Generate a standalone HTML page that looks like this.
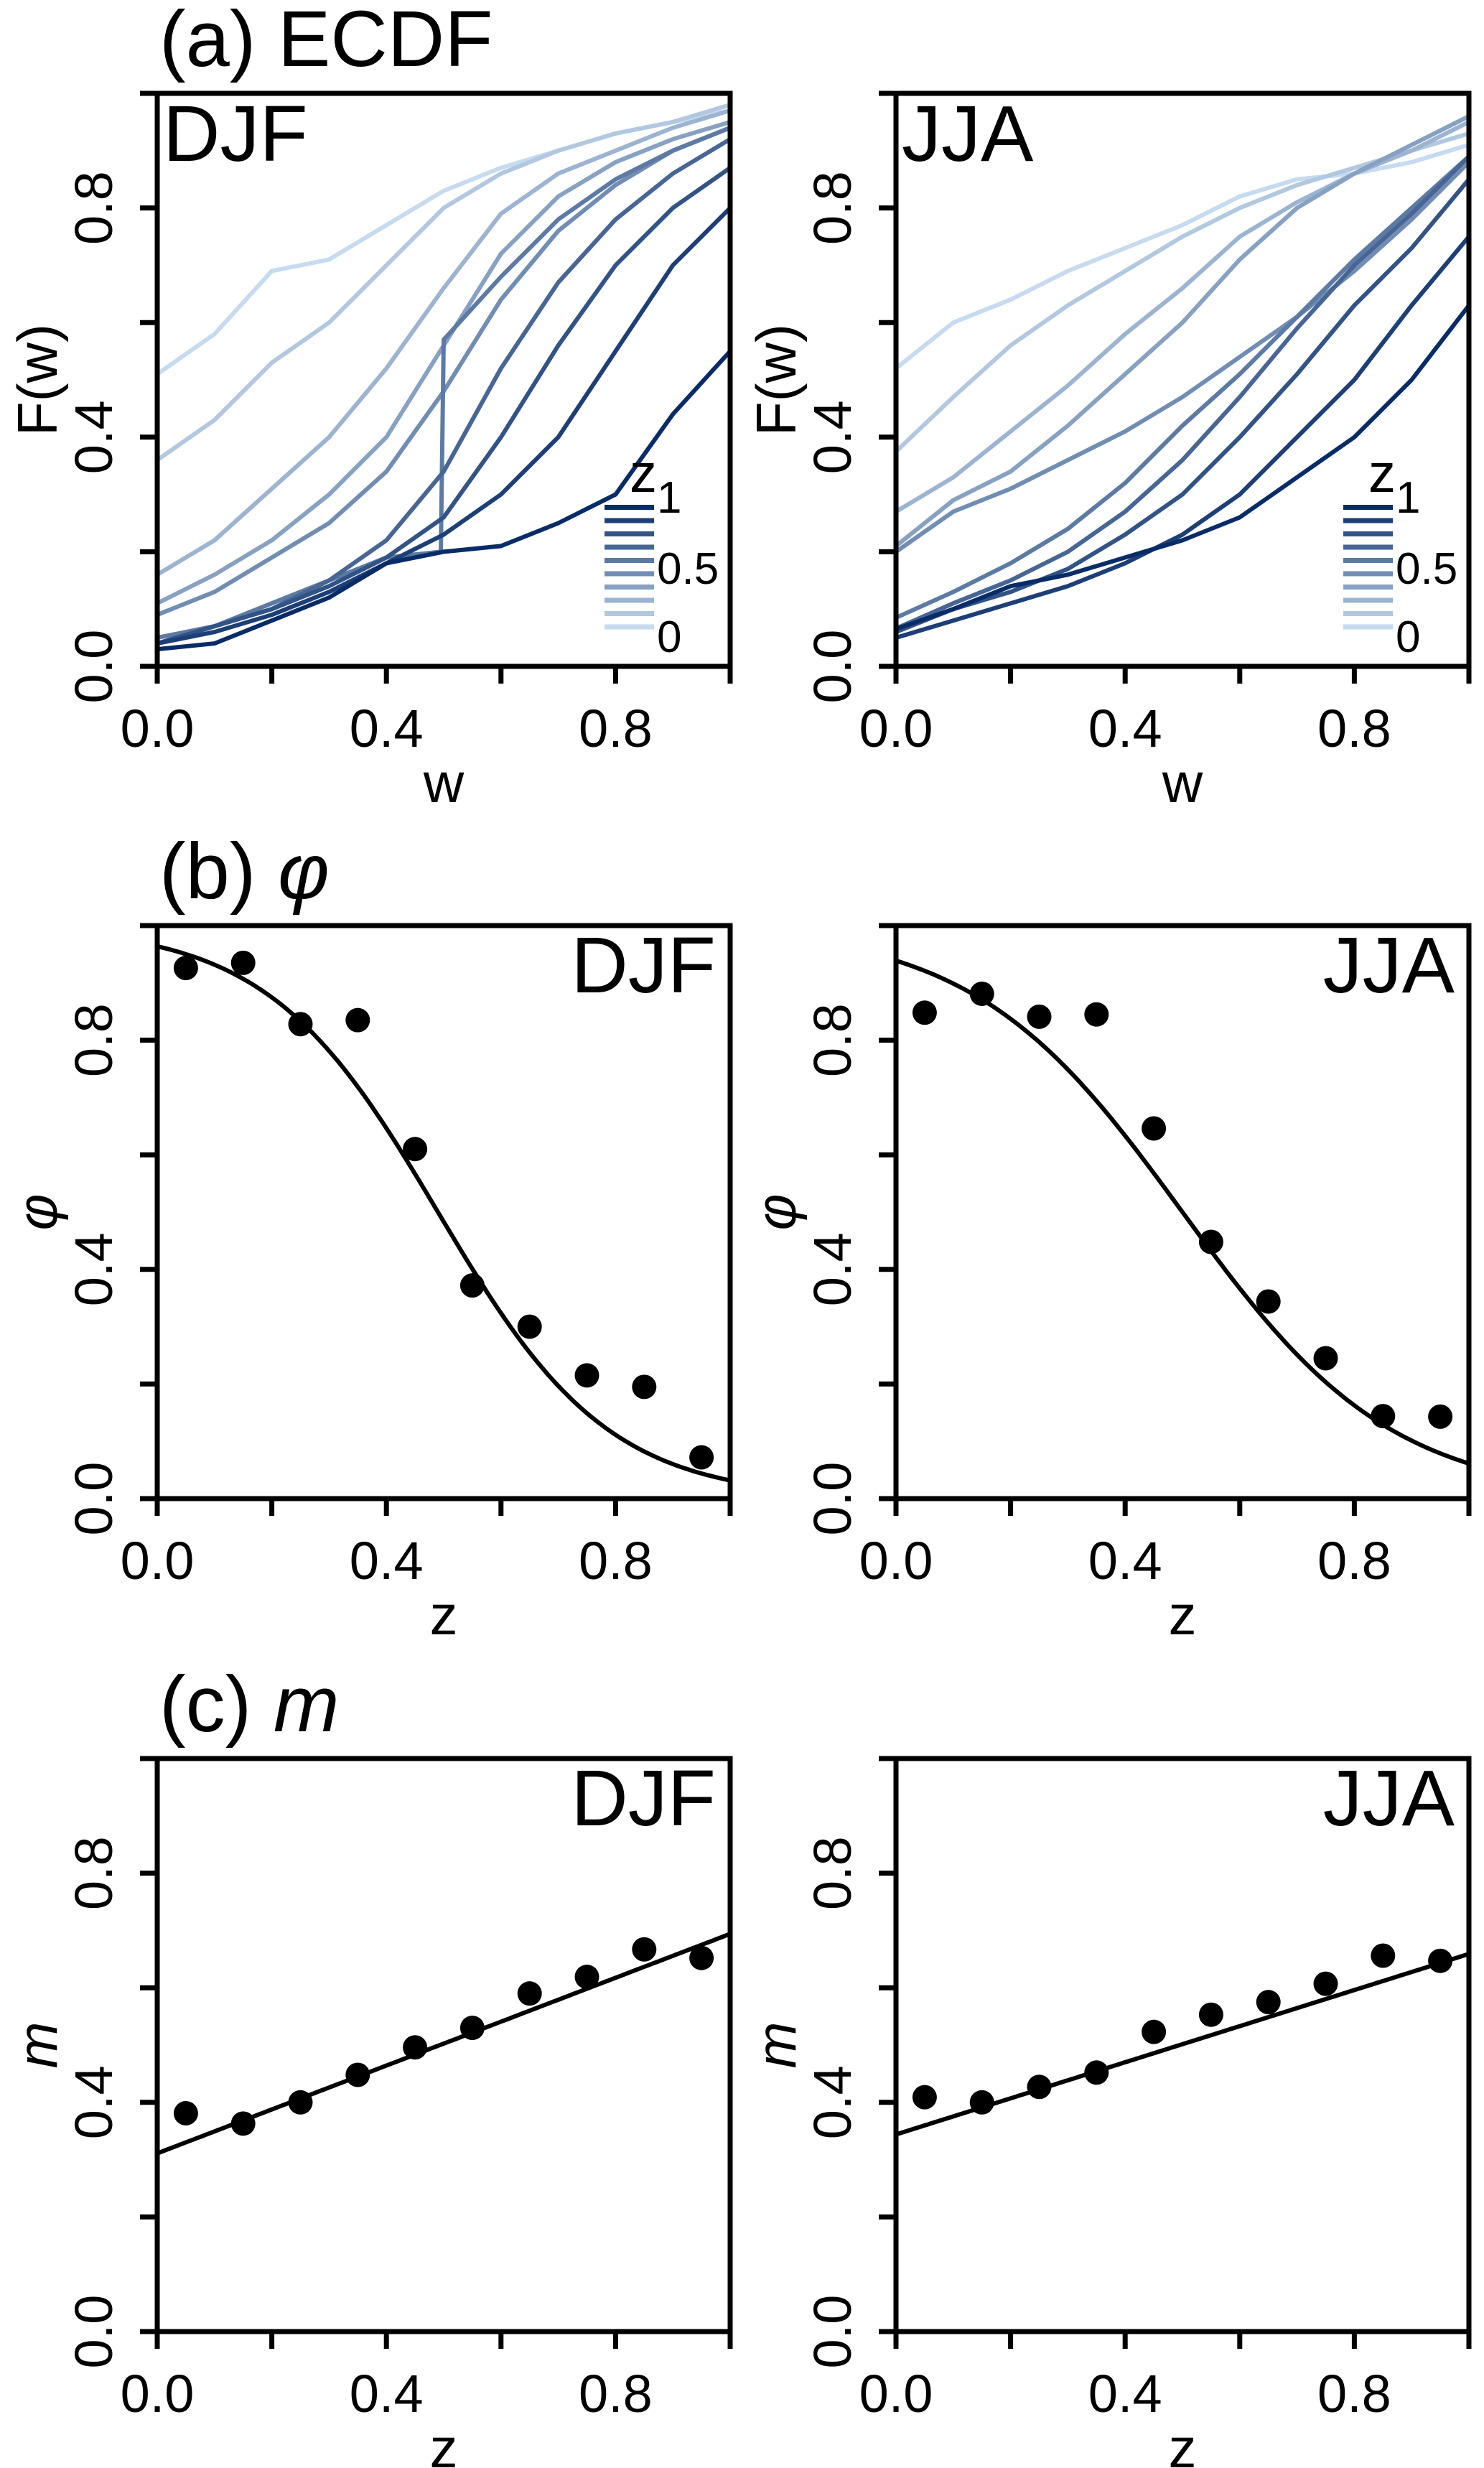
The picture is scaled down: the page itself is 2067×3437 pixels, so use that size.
<!DOCTYPE html>
<html><head><meta charset="utf-8"><title>ECDF, φ and m by season</title>
<style>
html,body{margin:0;padding:0;background:#fff;}
svg{display:block;font-family:"Liberation Sans",sans-serif;}
</style></head>
<body>
<svg id="fig" width="2067" height="3437" viewBox="0 0 2067 3437" xmlns="http://www.w3.org/2000/svg"></svg>
<script>
// ---- data ----
const wGrid = [0,0.1,0.2,0.3,0.4,0.5,0.6,0.7,0.8,0.9,1.0];
const wGridJump = [0,0.1,0.2,0.3,0.4,0.495,0.5,0.6,0.7,0.8,0.9,1.0];
const zLevels = [0.05,0.15,0.25,0.35,0.45,0.55,0.65,0.75,0.85,0.95];
const ecdfDJF = [
 [0.51,0.58,0.69,0.71,0.77,0.83,0.87,0.90,0.93,0.95,0.97],
 [0.36,0.43,0.53,0.60,0.70,0.80,0.86,0.90,0.93,0.95,0.98],
 [0.16,0.22,0.31,0.40,0.52,0.66,0.79,0.86,0.90,0.94,0.97],
 [0.11,0.16,0.22,0.30,0.40,0.56,0.72,0.82,0.88,0.92,0.95],
 [0.09,0.13,0.19,0.25,0.34,0.48,0.64,0.76,0.84,0.90,0.94],
 [0.05,0.07,0.11,0.15,0.19,0.20,0.57,0.68,0.78,0.85,0.90,0.94],
 [0.04,0.07,0.10,0.15,0.22,0.34,0.52,0.67,0.78,0.86,0.92],
 [0.04,0.07,0.10,0.14,0.19,0.26,0.40,0.56,0.70,0.80,0.87],
 [0.04,0.06,0.09,0.13,0.18,0.23,0.30,0.40,0.55,0.70,0.80],
 [0.03,0.04,0.08,0.12,0.18,0.20,0.21,0.25,0.30,0.44,0.55]
];
const ecdfJJA = [
 [0.52,0.60,0.64,0.69,0.73,0.77,0.82,0.85,0.86,0.88,0.91],
 [0.375,0.47,0.56,0.63,0.69,0.75,0.80,0.84,0.87,0.90,0.93],
 [0.27,0.33,0.41,0.49,0.58,0.66,0.75,0.81,0.86,0.90,0.95],
 [0.21,0.29,0.34,0.42,0.51,0.60,0.71,0.80,0.86,0.91,0.96],
 [0.20,0.27,0.31,0.36,0.41,0.47,0.54,0.61,0.69,0.78,0.88],
 [0.085,0.13,0.18,0.24,0.32,0.42,0.51,0.61,0.71,0.80,0.89],
 [0.066,0.11,0.15,0.20,0.27,0.36,0.47,0.59,0.70,0.79,0.89],
 [0.06,0.10,0.13,0.17,0.23,0.30,0.40,0.51,0.63,0.73,0.85],
 [0.05,0.08,0.11,0.14,0.18,0.23,0.30,0.40,0.50,0.63,0.75],
 [0.065,0.10,0.14,0.16,0.19,0.22,0.26,0.33,0.40,0.50,0.63]
];
const phiDJF = [0.926,0.935,0.828,0.835,0.61,0.372,0.30,0.215,0.195,0.072];
const phiJJA = [0.848,0.881,0.841,0.845,0.646,0.448,0.344,0.245,0.144,0.143];
const phiFitDJF = [6.7,0.49];   // logistic k, z0
const phiFitJJA = [5.46,0.50];
const mDJF = [0.381,0.363,0.40,0.448,0.496,0.530,0.590,0.619,0.667,0.652];
const mJJA = [0.409,0.40,0.427,0.452,0.523,0.553,0.575,0.607,0.656,0.647];
const mFitDJF = [0.311,0.694];  // value at z=0, z=1
const mFitJJA = [0.344,0.659];
const tickVals = [0,0.2,0.4,0.6,0.8,1.0];
const tickLabels = ["0.0","","0.4","","0.8",""];

// ---- layout ----
const NS="http://www.w3.org/2000/svg";
const svg=document.getElementById('fig');
const W=798, rowTop=[130,1289,2449], colLeft=[219,1248];
function mk(tag,attrs,parent){const e=document.createElementNS(NS,tag);for(const k in attrs)e.setAttribute(k,attrs[k]);(parent||svg).appendChild(e);return e;}
function lerpCol(t){const a=[198,219,239],b=[8,44,104];const c=a.map((v,i)=>Math.round(v+(b[i]-v)*t));return `rgb(${c[0]},${c[1]},${c[2]})`;}
const colors=zLevels.map((z,i)=>lerpCol(i/(zLevels.length-1)));

function panel(r,c,name,xTitle,yTitle,yItalic){
  const L=colLeft[c],T=rowTop[r],B=T+W,R=L+W;
  const g=mk('g',{});
  
  
  const sx=v=>L+v*W, sy=v=>B-v*W;
  tickVals.forEach((v,i)=>{
    const tx=mk('line',{x1:sx(v),x2:sx(v),y1:B,y2:B+24,stroke:'#000','stroke-width':7},g);
    
    const ty=mk('line',{x1:L,x2:L-24,y1:sy(v),y2:sy(v),stroke:'#000','stroke-width':7},g);
    
    if(tickLabels[i]){
      const lx=mk('text',{x:sx(v),y:B+112,'font-size':74,'text-anchor':'middle'},g);lx.textContent=tickLabels[i];
      
      const ly=mk('text',{x:L-63,y:sy(v),'font-size':74,'text-anchor':'middle',transform:`rotate(-90 ${L-63} ${sy(v)})`},g);ly.textContent=tickLabels[i];
      
    }
  });
  const xt=mk('text',{x:L+W/2,y:B+189,'font-size':78,'text-anchor':'middle'},g);xt.textContent=xTitle;
  
  const yx=L-140,yy=T+W/2;
  const yt=mk('text',{x:yx,y:yy,'font-size':78,'text-anchor':'middle','font-style':yItalic?'italic':'normal',transform:`rotate(-90 ${yx} ${yy})`},g);yt.textContent=yTitle;
  
  return {g,sx,sy,L,T,B,R};
}
function frame(p){
  const box=mk('rect',{x:p.L,y:p.T,width:W,height:W,fill:'none',stroke:'#000','stroke-width':7},p.g);
  
}
function seasonLabel(p,txt,right){
  const t=mk('text',right?{x:p.R-20,y:p.T+93,'font-size':110,'text-anchor':'end'}:{x:p.L+8,y:p.T+94,'font-size':110},p.g);
  t.textContent=txt;
  
}
function title(r,txt,sym){
  const t=mk('text',{x:222,y:rowTop[r]-38,'font-size':110});
  
  const a=mk('tspan',{},t);a.textContent=txt;
  if(sym){const b=mk('tspan',{'font-style':'italic'},t);b.textContent=sym;}
}

title(0,'(a) ECDF','');
title(1,'(b) ','φ');
title(2,'(c) ','m');

// ---- row a: ECDF ----
[[ecdfDJF,'DJF'],[ecdfJJA,'JJA']].forEach(([data,season],c)=>{
  const p=panel(0,c,'ecdf-panel-'+season.toLowerCase(),'w','F(w)',false);
  data.forEach((vals,i)=>{
    const grid = vals.length===wGridJump.length ? wGridJump : wGrid;
    const pts=vals.map((v,j)=>p.sx(grid[j]).toFixed(1)+','+p.sy(v).toFixed(1)).join(' ');
    const pl=mk('polyline',{points:pts,fill:'none',stroke:colors[i],'stroke-width':6,'stroke-linejoin':'miter'},p.g);
    
    
  });
  frame(p);
  seasonLabel(p,season,false);
  // legend
  const lg=mk('g',{},p.g);
  
  const x1=p.R-175,x2=p.R-106,yb=p.B-55,step=18.5;
  zLevels.forEach((z,i)=>{
    const y=yb-i*step;
    const ln=mk('line',{x1:x1,x2:x2,y1:y,y2:y,stroke:colors[i],'stroke-width':7},lg);
    
  });
  [['z',p.R-140,p.B-243,76],['1',p.R-102,p.B-214,62],['0.5',p.R-102,p.B-115,62],['0',p.R-102,p.B-20,62]].forEach(([t,x,y,fs])=>{
    const tx=mk('text',{x:x,y:y,'font-size':fs},lg);tx.textContent=t;
    
  });
});

// ---- rows b,c ----
function dotsPanel(r,c,season,vals,fitFn,yTitle,nm){
  const p=panel(r,c,nm+'-panel-'+season.toLowerCase(),'z',yTitle,true);
  const pts=[];for(let k=0;k<=200;k++){const z=k/200;pts.push(p.sx(z).toFixed(1)+','+p.sy(fitFn(z)).toFixed(1));}
  const fl=mk('polyline',{points:pts.join(' '),fill:'none',stroke:'#000','stroke-width':6},p.g);
  
  vals.forEach((v,i)=>{
    const d=mk('circle',{cx:p.sx(zLevels[i]),cy:p.sy(v),r:17,fill:'#000'},p.g);
    
  });
  frame(p);
  seasonLabel(p,season,true);
}
const logi=f=>z=>1/(1+Math.exp(f[0]*(z-f[1])));
const lin=f=>z=>f[0]+(f[1]-f[0])*z;
dotsPanel(1,0,'DJF',phiDJF,logi(phiFitDJF),'φ','phi');
dotsPanel(1,1,'JJA',phiJJA,logi(phiFitJJA),'φ','phi');
dotsPanel(2,0,'DJF',mDJF,lin(mFitDJF),'m','m');
dotsPanel(2,1,'JJA',mJJA,lin(mFitJJA),'m','m');
</script>
</body></html>
